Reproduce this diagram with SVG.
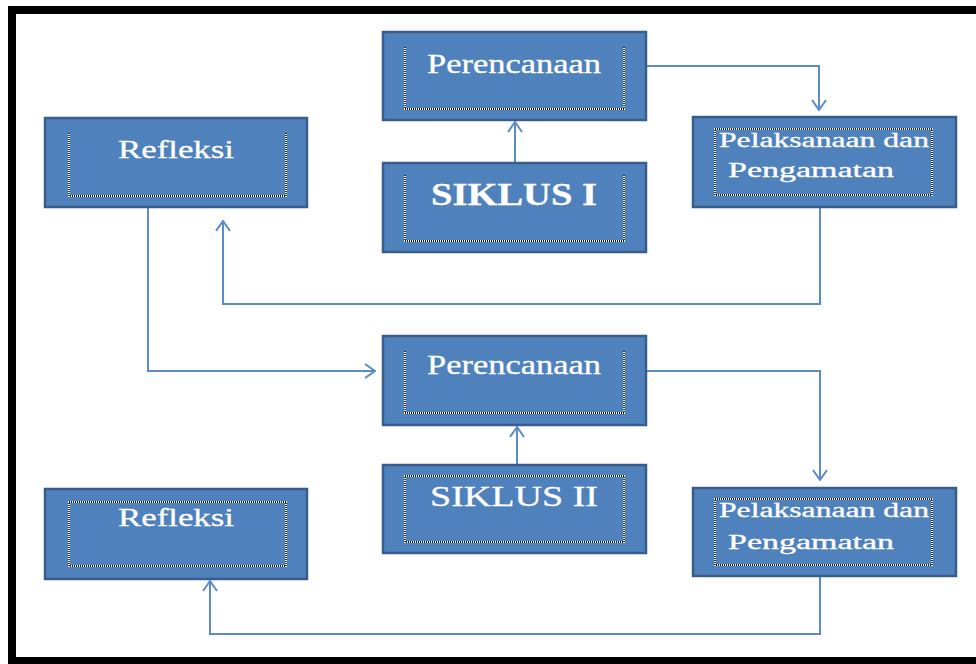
<svg xmlns="http://www.w3.org/2000/svg" width="976" height="664" viewBox="0 0 976 664">
<defs>
<style>
.box{fill:#4F81BD;stroke:#385D8A;stroke-width:2.5}
.dotw{fill:none;stroke:#ffffff;stroke-width:1.8}
.dot{fill:none;stroke:#1a1a1a;stroke-width:1.8;stroke-dasharray:1 1}
.lbl{font-family:"Liberation Serif","Times New Roman",serif;fill:#ffffff;text-anchor:middle;stroke:#ffffff;stroke-width:0.3}
.conn{fill:none;stroke:#5B8BC9;stroke-width:2}
</style>
<marker id="arr" viewBox="0 0 12 16" refX="11" refY="8" markerWidth="12" markerHeight="16" markerUnits="userSpaceOnUse" orient="auto">
<path d="M1,1 L11,8 L1,15" fill="none" stroke="#5B8BC9" stroke-width="2"/>
</marker>
</defs>
<rect x="0" y="0" width="976" height="664" fill="#ffffff"/>
<path d="M12,664 V10 H976" fill="none" stroke="#000000" stroke-width="8"/>
<rect x="8" y="657" width="968" height="7" fill="#000000"/>

<g id="connectors">
<path class="conn" d="M646,66 H819 V110" marker-end="url(#arr)"/>
<path class="conn" d="M515,163 V122" marker-end="url(#arr)"/>
<path class="conn" d="M820,207 V304 H223 V221" marker-end="url(#arr)"/>
<path class="conn" d="M148,207 V371 H375" marker-end="url(#arr)"/>
<path class="conn" d="M646,371 H820 V480" marker-end="url(#arr)"/>
<path class="conn" d="M517,465 V427" marker-end="url(#arr)"/>
<path class="conn" d="M820,576 V634 H210 V581" marker-end="url(#arr)"/>
</g>

<g id="perencanaan1">
<rect class="box" x="383" y="32" width="263" height="88"/>
<path class="dotw" d="M405,47 V109 H624 V47"/>
<path class="dot" d="M405,47 V109 H624 V47"/>
<text class="lbl" x="514" y="73" font-size="27" textLength="174" lengthAdjust="spacingAndGlyphs">Perencanaan</text>
</g>

<g id="siklus1">
<rect class="box" x="383" y="163" width="263" height="89"/>
<path class="dotw" d="M405,175 V241 H624 V175"/>
<path class="dot" d="M405,175 V241 H624 V175"/>
<text class="lbl" x="514" y="205" font-size="32" font-weight="bold" textLength="166" lengthAdjust="spacingAndGlyphs">SIKLUS  I</text>
</g>

<g id="pelaksanaan1">
<rect class="box" x="693" y="117" width="263" height="90"/>
<rect class="dotw" x="715" y="129" width="217" height="66"/>
<rect class="dot" x="715" y="129" width="217" height="66"/>
<text class="lbl" x="824" y="147" font-size="20" textLength="210" lengthAdjust="spacingAndGlyphs">Pelaksanaan dan</text>
<text class="lbl" x="811" y="177" font-size="20" textLength="166" lengthAdjust="spacingAndGlyphs">Pengamatan</text>
</g>

<g id="refleksi1">
<rect class="box" x="45" y="118" width="262" height="89"/>
<path class="dotw" d="M69,133 V196 H286 V133"/>
<path class="dot" d="M69,133 V196 H286 V133"/>
<text class="lbl" x="176" y="158" font-size="26" textLength="116" lengthAdjust="spacingAndGlyphs">Refleksi</text>
</g>

<g id="perencanaan2">
<rect class="box" x="383" y="336" width="263" height="89"/>
<path class="dotw" d="M405,351 V413 H624 V351"/>
<path class="dot" d="M405,351 V413 H624 V351"/>
<text class="lbl" x="514" y="374" font-size="27" textLength="174" lengthAdjust="spacingAndGlyphs">Perencanaan</text>
</g>

<g id="siklus2">
<rect class="box" x="383" y="465" width="263" height="88"/>
<rect class="dotw" x="405" y="476" width="219" height="66"/>
<rect class="dot" x="405" y="476" width="219" height="66"/>
<text class="lbl" x="514" y="506" font-size="30" textLength="168" lengthAdjust="spacingAndGlyphs">SIKLUS II</text>
</g>

<g id="pelaksanaan2">
<rect class="box" x="693" y="488" width="263" height="88"/>
<rect class="dotw" x="715" y="499" width="217" height="66"/>
<rect class="dot" x="715" y="499" width="217" height="66"/>
<text class="lbl" x="824" y="517" font-size="20" textLength="210" lengthAdjust="spacingAndGlyphs">Pelaksanaan dan</text>
<text class="lbl" x="811" y="549" font-size="20" textLength="166" lengthAdjust="spacingAndGlyphs">Pengamatan</text>
</g>

<g id="refleksi2">
<rect class="box" x="45" y="489" width="262" height="90"/>
<rect class="dotw" x="69" y="502" width="217" height="64"/>
<rect class="dot" x="69" y="502" width="217" height="64"/>
<text class="lbl" x="176" y="526" font-size="26" textLength="116" lengthAdjust="spacingAndGlyphs">Refleksi</text>
</g>
</svg>
